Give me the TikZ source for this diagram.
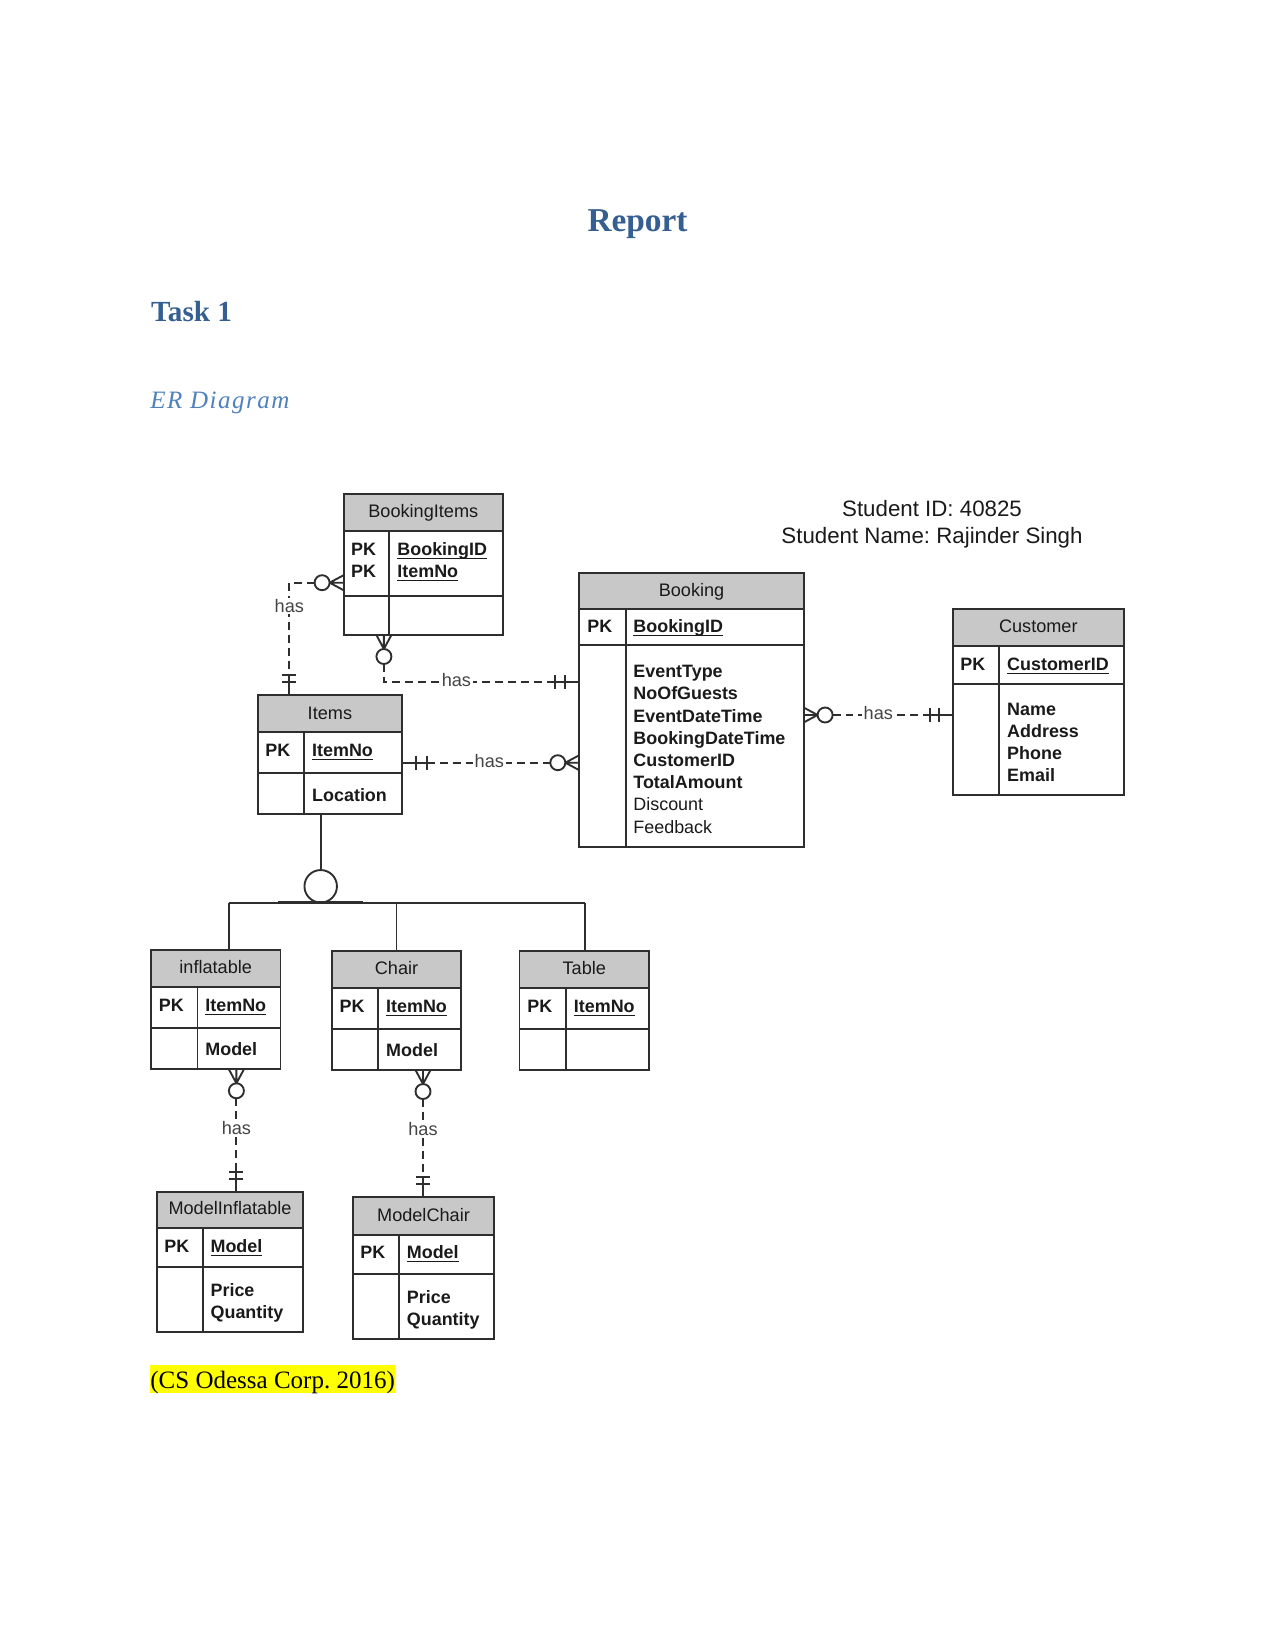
\documentclass[tikz,border=0pt]{standalone}
\usepackage{fontspec}
\setmainfont{Liberation Serif}
\newfontfamily\arialf{Liberation Sans}
\usetikzlibrary{fit,calc}
\frenchspacing
\definecolor{hdblue}{HTML}{365F91}
\definecolor{subblue}{HTML}{4F81BD}
\definecolor{erline}{HTML}{2E2E2E}
\definecolor{hdrfill}{HTML}{C8C8C8}
\definecolor{ertext}{HTML}{1A1A1A}
\definecolor{relgray}{HTML}{444444}
\definecolor{hlyellow}{HTML}{FFFF00}
\newcommand\ulkey[1]{\underline{\smash{#1}}}
% entity box: name, left, top, right, header bottom, pk bottom, bottom, divider
\newcommand\erent[8]{%
  \fill[hdrfill] (#2,#3) rectangle (#4,#5);
  \draw[erl] (#2,#5) -- (#4,#5) (#2,#6) -- (#4,#6) (#8,#5) -- (#8,#7);
  \coordinate (#1-nw) at (#2,#3);
  \coordinate (#1-se) at (#4,#7);
  \node[erbox, fit=(#1-nw)(#1-se)] (#1) {};
}
% zero-or-many marker: point on entity edge, direction away from entity
\newcommand\crowz[2]{%
  \begin{scope}[shift={(#1)}, rotate=#2]
    \draw[erl] (0,-7.5) -- (14,0) -- (0,7.5) (0,0) -- (14,0);
    \draw[erl, fill=white] (21.5,0) circle (7.5);
  \end{scope}}
% one-and-only-one marker: point, direction, bar 1, bar 2
\newcommand\onlyone[4]{%
  \begin{scope}[shift={(#1)}, rotate=#2]
    \draw[erl] (0,0) -- (#4,0) (#3,-7) -- (#3,7) (#4,-7) -- (#4,7);
  \end{scope}}
\begin{document}
\begin{tikzpicture}[x=0.48pt,y=-0.48pt,
  erl/.style={draw=erline, line width=0.9pt},
  erbox/.style={draw=erline, line width=0.9pt, inner sep=0pt, outer sep=0pt},
  ttl/.style={font=\arialf\fontsize{8.7}{10}\selectfont, text=ertext, inner sep=0pt, anchor=base},
  pk/.style={font=\arialf\bfseries\fontsize{8.6}{10}\selectfont, text=ertext, inner sep=0pt, anchor=base west},
  att/.style={font=\arialf\bfseries\fontsize{8.6}{10}\selectfont, text=ertext, inner sep=0pt, anchor=base west},
  attn/.style={font=\arialf\fontsize{8.6}{10}\selectfont, text=ertext, inner sep=0pt, anchor=base west},
  rel/.style={font=\arialf\fontsize{8.7}{10}\selectfont, text=relgray, fill=white, inner sep=0.8pt, anchor=mid},
  conn/.style={draw=erline, line width=0.9pt, dash pattern=on 3.8pt off 2.4pt},
  isabar/.style={draw=erline, line width=1.7pt}
]
\path[use as bounding box, fill=white] (0,0) rectangle (1275,1650);

% ---------- page text ----------
\node[font=\fontsize{16}{19}\selectfont\bfseries, text=hdblue, anchor=base, inner sep=0pt] (title) at (637.5,231.7) {Report};
\node[font=\fontsize{14}{17}\selectfont\bfseries, text=hdblue, anchor=base west, inner sep=0pt] (task) at (150.7,321.7) {Task 1};
\node[font=\fontsize{12}{14}\selectfont\itshape\addfontfeature{LetterSpace=6}, text=subblue, anchor=base west, inner sep=0pt] (subt) at (150,408.3) {ER Diagram};
\node[font=\arialf\fontsize{10.7}{13}\selectfont, text=ertext, anchor=base, inner sep=0pt] (sid) at (932,516.3) {Student ID: 40825};
\node[font=\arialf\fontsize{10.7}{13}\selectfont, text=ertext, anchor=base, inner sep=0pt] (sname) at (932,543.3) {Student Name: Rajinder Singh};
\node[font=\fontsize{12}{14}\selectfont, fill=hlyellow, anchor=base west, inner sep=0pt, text height=11.2pt, text depth=2.3pt] (cite) at (150,1388.3) {(CS Odessa Corp. 2016)};

% ---------- entities ----------
\erent{bi}{343.6}{494}{502.9}{530.7}{596}{635}{389.3}
\erent{bk}{579.3}{572.7}{803.6}{609.3}{644.7}{847.3}{625.7}
\erent{cu}{952.7}{609.3}{1124}{646}{684}{795}{999.3}
\erent{it}{257.9}{695}{401.8}{732.3}{773.3}{814}{304.3}
\erent{inf}{151}{950}{280.5}{986.7}{1028.3}{1069.3}{197.5}
\erent{ch}{331.8}{950.7}{461.3}{987.7}{1029.3}{1070}{378.3}
\erent{tb}{519.5}{950.7}{649}{987.7}{1029.3}{1070}{566}
\erent{mi}{156.7}{1191.7}{303.3}{1228.3}{1267.3}{1332.3}{202.7}
\erent{mc}{352.7}{1197.3}{494.3}{1235}{1274.3}{1339.3}{399}

% BookingItems
\node[ttl] (bi-t) at (423.3,517.7) {BookingItems};
\node[pk] (bi-pk1) at (350.7,555.3) {PK};
\node[pk] (bi-pk2) at (350.7,577.7) {PK};
\node[att] (bi-k1) at (397,555.3) {\ulkey{BookingID}};
\node[att] (bi-k2) at (397,577.7) {\ulkey{ItemNo}};
% Booking
\node[ttl] (bk-t) at (691.5,596) {Booking};
\node[pk] (bk-pk) at (587,632.7) {PK};
\node[att] (bk-k) at (633,632.7) {\ulkey{BookingID}};
\node[att] (bk-a1) at (633,677.7) {EventType};
\node[att] (bk-a2) at (633,699.9) {NoOfGuests};
\node[att] (bk-a3) at (633,722.1) {EventDateTime};
\node[att] (bk-a4) at (633,744.3) {BookingDateTime};
\node[att] (bk-a5) at (633,766.5) {CustomerID};
\node[att] (bk-a6) at (633,788.7) {TotalAmount};
\node[attn] (bk-a7) at (633,810.9) {Discount};
\node[attn] (bk-a8) at (633,833.1) {Feedback};
% Customer
\node[ttl] (cu-t) at (1038.3,632.7) {Customer};
\node[pk] (cu-pk) at (960,670.3) {PK};
\node[att] (cu-k) at (1006.8,670.3) {\ulkey{CustomerID}};
\node[att] (cu-a1) at (1006.8,715.3) {Name};
\node[att] (cu-a2) at (1006.8,737.5) {Address};
\node[att] (cu-a3) at (1006.8,759.7) {Phone};
\node[att] (cu-a4) at (1006.8,781.9) {Email};
% Items
\node[ttl] (it-t) at (329.9,719.3) {Items};
\node[pk] (it-pk) at (265,756.7) {PK};
\node[att] (it-k) at (311.8,756.7) {\ulkey{ItemNo}};
\node[att] (it-a1) at (311.8,801) {Location};
% inflatable
\node[ttl] (inf-t) at (215.7,973.7) {inflatable};
\node[pk] (inf-pk) at (158.5,1011.7) {PK};
\node[att] (inf-k) at (205,1011.7) {\ulkey{ItemNo}};
\node[att] (inf-a1) at (205,1055.3) {Model};
% Chair
\node[ttl] (ch-t) at (396.5,974.3) {Chair};
\node[pk] (ch-pk) at (339.3,1012) {PK};
\node[att] (ch-k) at (385.8,1012) {\ulkey{ItemNo}};
\node[att] (ch-a1) at (385.8,1056) {Model};
% Table
\node[ttl] (tb-t) at (584.3,974.3) {Table};
\node[pk] (tb-pk) at (527,1012) {PK};
\node[att] (tb-k) at (573.5,1012) {\ulkey{ItemNo}};
% ModelInflatable
\node[ttl] (mi-t) at (230,1214.3) {ModelInflatable};
\node[pk] (mi-pk) at (164,1252) {PK};
\node[att] (mi-k) at (210.2,1252) {\ulkey{Model}};
\node[att] (mi-a1) at (210.2,1296.7) {Price};
\node[att] (mi-a2) at (210.2,1318.3) {Quantity};
% ModelChair
\node[ttl] (mc-t) at (423.5,1221.7) {ModelChair};
\node[pk] (mc-pk) at (360,1258.7) {PK};
\node[att] (mc-k) at (406.5,1258.7) {\ulkey{Model}};
\node[att] (mc-a1) at (406.5,1303.3) {Price};
\node[att] (mc-a2) at (406.5,1325.3) {Quantity};

% ---------- connector end points on the entities ----------
\coordinate (c1a) at (bi.west |- 0,582.7);
\coordinate (c1b) at (289.3,582.7);
\coordinate (c1c) at (289.3,0 |- it.north);
\coordinate (c2a) at (383.9,0 |- bi.south);
\coordinate (c2b) at (383.9,681.7);
\coordinate (c2c) at (bk.west |- 0,681.7);
\coordinate (c3a) at (it.east |- 0,762.7);
\coordinate (c3b) at (bk.west |- 0,762.7);
\coordinate (c4a) at (bk.east |- 0,715);
\coordinate (c4b) at (cu.west |- 0,715);
\coordinate (c5a) at (236.4,0 |- inf.south);
\coordinate (c5b) at (236.4,0 |- mi.north);
\coordinate (c6a) at (423,0 |- ch.south);
\coordinate (c6b) at (423,0 |- mc.north);

% dashed relationship lines
\draw[conn] ($(c1a)+(-29,0)$) -- (c1b) -- ($(c1c)+(0,-20)$);
\draw[conn] ($(c2a)+(0,29)$) -- (c2b) -- ($(c2c)+(-24,0)$);
\draw[conn] ($(c3a)+(25,0)$) -- ($(c3b)+(-29,0)$);
\draw[conn] ($(c4a)+(29,0)$) -- ($(c4b)+(-23,0)$);
\draw[conn] ($(c5a)+(0,29)$) -- ($(c5b)+(0,-20)$);
\draw[conn] ($(c6a)+(0,29)$) -- ($(c6b)+(0,-20)$);

% cardinality markers
\crowz{c1a}{180}
\onlyone{c1c}{90}{13}{20}
\crowz{c2a}{-90}
\onlyone{c2c}{180}{14}{24}
\onlyone{c3a}{0}{14}{25}
\crowz{c3b}{180}
\crowz{c4a}{0}
\onlyone{c4b}{180}{14}{23}
\crowz{c5a}{-90}
\onlyone{c5b}{90}{13}{20}
\crowz{c6a}{-90}
\onlyone{c6b}{90}{13}{20}

% relationship labels
\node[rel] (r1) at (289.3,607.7) {has};
\node[rel] (r2) at (456.4,681.7) {has};
\node[rel] (r3) at (489.3,762.7) {has};
\node[rel] (r4) at (878.3,715) {has};
\node[rel] (r5) at (236.4,1129.3) {has};
\node[rel] (r6) at (423,1130.7) {has};

% ---------- specialisation ----------
\node[circle, draw=erline, line width=0.9pt, minimum size=15.6pt, inner sep=0pt] (isa) at (320.7,886.3) {};
\draw[erl] (it.south -| isa.center) -- (isa.north);
\coordinate (hl) at (228.8,902.7);
\coordinate (hm) at (396.5,902.7);
\coordinate (hr) at (584.9,902.7);
\draw[erl] (hl) -- (hr);
\draw[isabar] (278.3,902.7) -- (363.3,902.7);
\draw[erl] (hl) -- (hl |- inf.north);
\draw[erl] (hm) -- (hm |- ch.north);
\draw[erl] (hr) -- (hr |- tb.north);
\end{tikzpicture}
\end{document}
